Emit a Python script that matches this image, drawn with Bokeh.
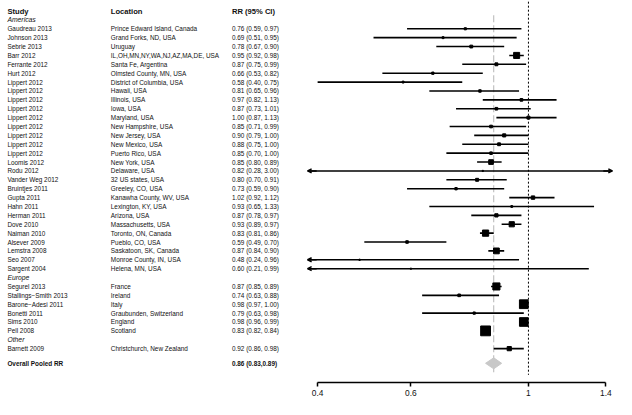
import math
from bokeh.plotting import figure
from bokeh.models import Range1d, LinearScale, FixedTicker, ColumnDataSource, Label, Arrow, OpenHead
from bokeh.core.properties import value
from bokeh.embed import file_html
from bokeh.resources import INLINE

# ---------------- data ----------------
study = ["Gaudreau 2013", "Johnson 2013", "Sebrie 2013", "Barr 2012", "Ferrante 2012", "Hurt 2012",
         "Lippert 2012", "Lippert 2012", "Lippert 2012", "Lippert 2012", "Lippert 2012",
         "Lippert 2012", "Lippert 2012", "Lippert 2012", "Lippert 2012", "Loomis 2012",
         "Rodu 2012", "Vander Weg 2012", "Bruintjes 2011", "Gupta 2011", "Hahn 2011",
         "Herman 2011", "Dove 2010", "Naiman 2010", "Alsever 2009", "Lemstra 2008",
         "Seo 2007", "Sargent 2004",
         "Segurel 2013", "Stallings\u2212Smith 2013", "Barone\u2212Adesi 2011", "Bonetti 2011",
         "Sims 2010", "Pell 2008",
         "Barnett 2009"]
location = ["Prince Edward Island, Canada", "Grand Forks, ND, USA", "Uruguay",
            "IL,OH,MN,NY,WA,NJ,AZ,MA,DE, USA", "Santa Fe, Argentina", "Olmsted County, MN, USA",
            "District of Columbia, USA", "Hawaii, USA", "Illinois, USA", "Iowa, USA", "Maryland, USA",
            "New Hampshire, USA", "New Jersey, USA", "New Mexico, USA", "Puerto Rico, USA",
            "New York, USA", "Delaware, USA", "32 US states, USA", "Greeley, CO, USA",
            "Kanawha County, WV, USA", "Lexington, KY, USA", "Arizona, USA", "Massachusetts, USA",
            "Toronto, ON, Canada", "Pueblo, CO, USA", "Saskatoon, SK, Canada",
            "Monroe County, IN, USA", "Helena, MN, USA",
            "France", "Ireland", "Italy", "Graubunden, Switzerland", "England", "Scotland",
            "Christchurch, New Zealand"]
rr_text = ["0.76 (0.59, 0.97)", "0.69 (0.51, 0.95)", "0.78 (0.67, 0.90)", "0.95 (0.92, 0.98)",
           "0.87 (0.75, 0.99)", "0.66 (0.53, 0.82)", "0.58 (0.40, 0.75)", "0.81 (0.65, 0.96)",
           "0.97 (0.82, 1.13)", "0.87 (0.73, 1.01)", "1.00 (0.87, 1.13)", "0.85 (0.71, 0.99)",
           "0.90 (0.79, 1.00)", "0.88 (0.75, 1.00)", "0.85 (0.70, 1.00)", "0.85 (0.80, 0.89)",
           "0.82 (0.28, 3.00)", "0.80 (0.70, 0.91)", "0.73 (0.59, 0.90)", "1.02 (0.92, 1.12)",
           "0.93 (0.65, 1.33)", "0.87 (0.78, 0.97)", "0.93 (0.89, 0.97)", "0.83 (0.81, 0.86)",
           "0.59 (0.49, 0.70)", "0.87 (0.84, 0.90)", "0.48 (0.24, 0.96)", "0.60 (0.21, 0.99)",
           "0.87 (0.85, 0.89)", "0.74 (0.63, 0.88)", "0.98 (0.97, 1.00)", "0.79 (0.63, 0.98)",
           "0.98 (0.96, 0.99)", "0.83 (0.82, 0.84)",
           "0.92 (0.86, 0.98)"]
rr = [0.76, 0.69, 0.78, 0.95, 0.87, 0.66, 0.58, 0.81, 0.97, 0.87, 1.00, 0.85, 0.90, 0.88, 0.85,
      0.85, 0.82, 0.80, 0.73, 1.02, 0.93, 0.87, 0.93, 0.83, 0.59, 0.87, 0.48, 0.60,
      0.87, 0.74, 0.98, 0.79, 0.98, 0.83, 0.92]
lo = [0.59, 0.51, 0.67, 0.92, 0.75, 0.53, 0.40, 0.65, 0.82, 0.73, 0.87, 0.71, 0.79, 0.75, 0.70,
      0.80, 0.28, 0.70, 0.59, 0.92, 0.65, 0.78, 0.89, 0.81, 0.49, 0.84, 0.24, 0.21,
      0.85, 0.63, 0.97, 0.63, 0.96, 0.82, 0.86]
hi = [0.97, 0.95, 0.90, 0.98, 0.99, 0.82, 0.75, 0.96, 1.13, 1.01, 1.13, 0.99, 1.00, 1.00, 1.00,
      0.89, 3.00, 0.91, 0.90, 1.12, 1.33, 0.97, 0.97, 0.86, 0.70, 0.90, 0.96, 1.30,
      0.89, 0.88, 1.00, 0.98, 0.99, 0.84, 0.98]
region = ["Americas"] * 28 + ["Europe"] * 6 + ["Other"] * 1
pooled_rr, pooled_lo, pooled_hi = 0.86, 0.83, 0.89
pooled_text = "0.86 (0.83,0.89)"
x_ticks = [0.4, 0.6, 1, 1.4]
x_tick_labels = ["0.4", "0.6", "1", "1.4"]

# ---------------- layout ----------------
FONT = "Liberation Sans"
W, H = 616, 399
clip_lo, clip_hi = 0.383, 1.44

rows, grp_rows, grp_names = [], [], []
r = 1
prev = None
for g in region:
    if g != prev:
        grp_rows.append(r)
        grp_names.append(g)
        r += 1
        prev = g
    rows.append(r)
    r += 1
pooled_row = rows[-1] + 1.65

p = figure(width=W, height=H, x_axis_type="log",
           x_range=Range1d(0.1008, 1.4663), y_range=Range1d(41.81, -1.182),
           output_backend="svg", toolbar_location=None, y_axis_location=None,
           min_border_left=0, min_border_right=0, min_border_top=0, min_border_bottom=17)
p.outline_line_color = None
p.grid.visible = False
p.background_fill_color = "white"
p.extra_x_ranges = {"txt": Range1d(0, 625.4)}
p.extra_x_scales = {"txt": LinearScale()}

# reference lines
p.segment(x0=[1], x1=[1], y0=[-1.05], y1=[40.95], line_color="black", line_width=1, line_dash="2 2")
p.segment(x0=[pooled_rr], x1=[pooled_rr], y0=[0.48], y1=[40.95], line_color="#b5b5b5",
          line_width=1, line_dash="7 3")

# CI lines (clipped) and arrows
seg_x0 = [max(a, clip_lo) for a in lo]
seg_x1 = [min(b, clip_hi) for b in hi]
p.segment(x0=seg_x0, x1=seg_x1, y0=rows, y1=rows, line_color="black", line_width=1.6)

left_rows = [rows[i] for i in range(len(rows)) if lo[i] < clip_lo]
right_rows = [rows[i] for i in range(len(rows)) if hi[i] > clip_hi]
if left_rows:
    src = ColumnDataSource(dict(xs=[clip_lo * 1.04] * len(left_rows), xe=[clip_lo] * len(left_rows), y=left_rows))
    p.add_layout(Arrow(end=OpenHead(size=4, line_width=1.5), x_start="xs", y_start="y",
                       x_end="xe", y_end="y", source=src, line_width=1.6))
if right_rows:
    src = ColumnDataSource(dict(xs=[clip_hi / 1.04] * len(right_rows), xe=[clip_hi] * len(right_rows), y=right_rows))
    p.add_layout(Arrow(end=OpenHead(size=4, line_width=1.5), x_start="xs", y_start="y",
                       x_end="xe", y_end="y", source=src, line_width=1.6))

# boxes: area proportional to precision (1/SE)
prec = [3.92 / (math.log(b) - math.log(a)) for a, b in zip(lo, hi)]
pmax = max(prec)
sizes = [max(1.2, 9.8 * math.sqrt(w / pmax)) for w in prec]
p.scatter(x=rr, y=rows, size=sizes, marker="square", fill_color="black", line_color="black", line_width=1)

# pooled diamond
h = 0.62
p.patch(x=[pooled_lo, pooled_rr, pooled_hi, pooled_rr],
        y=[pooled_row, pooled_row - h, pooled_row, pooled_row + h],
        fill_color="#c8c8c8", line_color="#c8c8c8")

# text columns
col_x = {"study": 7, "loc": 112, "rr": 235}
common = dict(x_range_name="txt", text_font=value(FONT), text_baseline="middle", text_align="left",
              text_color="#111111")
p.text(x=[col_x["study"], col_x["loc"], col_x["rr"]], y=[0, 0, 0],
       text=["Study", "Location", "RR (95% CI)"], text_font_size="7.6px", text_font_style="bold", **common)
p.text(x=[col_x["study"]] * len(grp_rows), y=grp_rows, text=grp_names,
       text_font_size="6.8px", text_font_style="italic", **common)
p.text(x=[col_x["study"]] * len(rows), y=rows, text=study, text_font_size="6.4px", **common)
p.text(x=[col_x["loc"]] * len(rows), y=rows, text=location, text_font_size="6.4px", **common)
p.text(x=[col_x["rr"]] * len(rows), y=rows, text=rr_text, text_font_size="6.4px", **common)
p.text(x=[col_x["study"], col_x["rr"]], y=[pooled_row, pooled_row],
       text=["Overall Pooled RR", pooled_text], text_font_size="6.4px", text_font_style="bold", **common)

# axis
ax = p.xaxis[0]
ax.ticker = FixedTicker(ticks=x_ticks)
ax.major_label_overrides = {t: l for t, l in zip(x_ticks, x_tick_labels)}
ax.bounds = (0.4, 1.4)
ax.major_tick_in = 0
ax.major_tick_out = 4
ax.minor_tick_line_color = None
ax.axis_line_width = 1.5
ax.major_tick_line_width = 1.5
ax.major_label_text_font = FONT
ax.major_label_text_font_size = "8.4px"
ax.major_label_text_color = "#111111"
ax.major_label_standoff = 3

p.add_layout(Label(x=461, y=-12, x_units="screen", y_units="screen", text="Rate Ratio (RR)",
                   text_font=FONT, text_font_size="8.4px", text_align="center",
                   text_baseline="middle", text_color="#111111"))

open("out.html", "w").write(file_html(p, INLINE))
